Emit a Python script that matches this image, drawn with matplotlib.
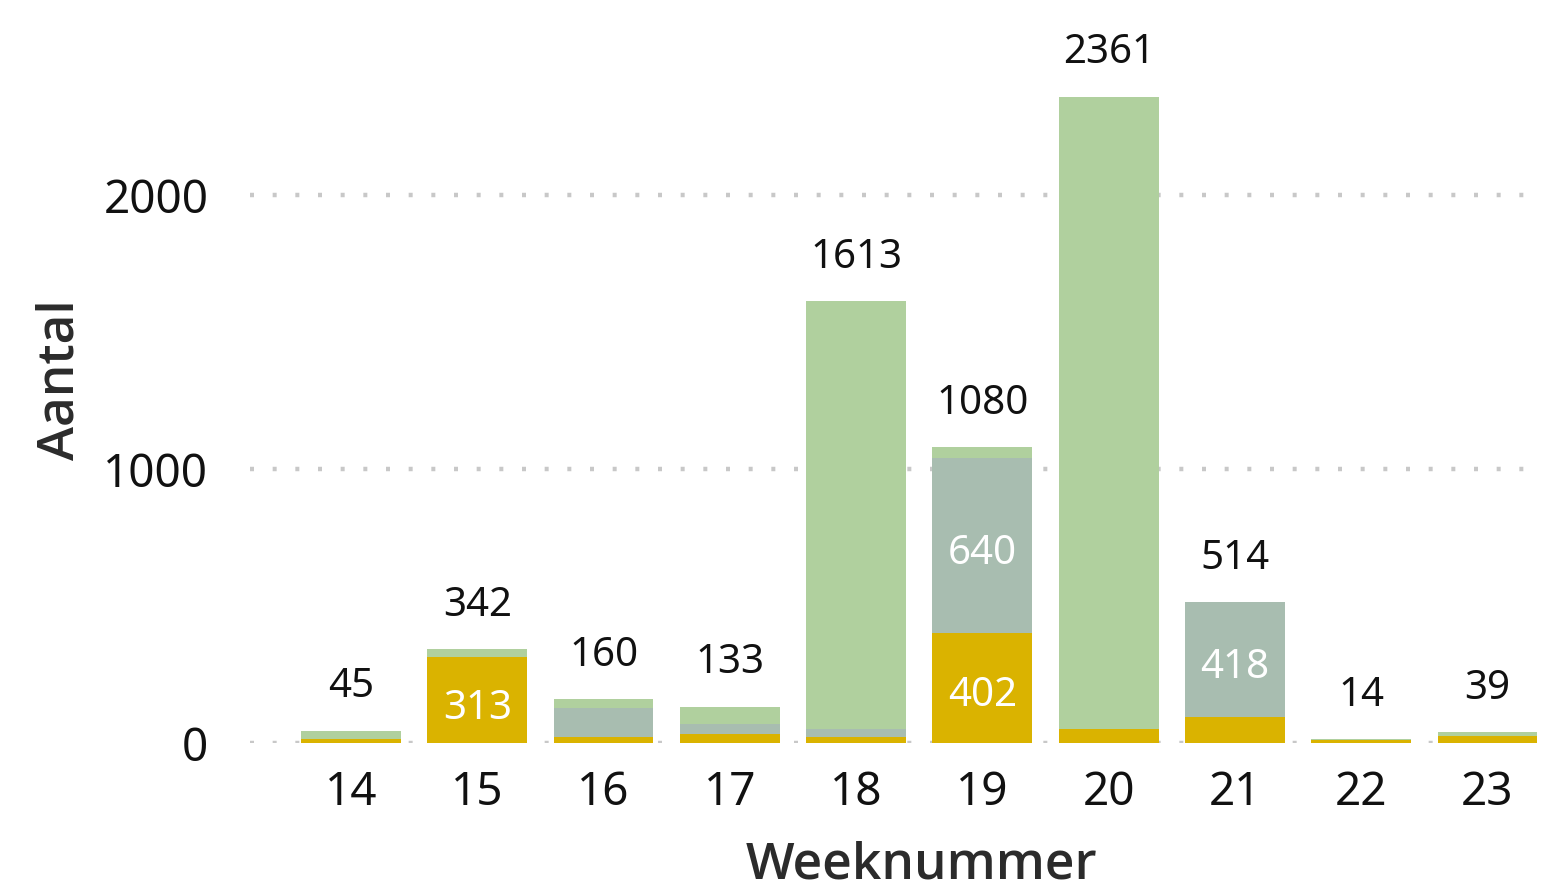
"""
Gestapelde staafgrafiek: aantal per weeknummer.
"""

import matplotlib.pyplot as plt
import numpy as np

weeks = [14, 15, 16, 17, 18, 19, 20, 21, 22, 23]
geel = [15, 313, 23, 33, 23, 402, 52, 96, 10, 26]
grijs = [0, 0, 105, 36, 29, 640, 0, 418, 0, 0]
groen = [30, 29, 32, 64, 1561, 38, 2309, 0, 4, 13]
totaal = [45, 342, 160, 133, 1613, 1080, 2361, 514, 14, 39]

KLEUREN = ["#dab300", "#a8bdb0", "#b0d09e"]

plt.rcParams["font.family"] = ["Noto Sans", "DejaVu Sans"]

fig = plt.figure(figsize=(15.48, 8.9), dpi=100)
ax = fig.add_axes([0.1615, 0.165, 0.832, 0.80])

x = np.array(weeks)
breedte = 0.79
onder = np.zeros(len(weeks))
for waarden, kleur in zip([geel, grijs, groen], KLEUREN):
    waarden = np.array(waarden)
    ax.bar(x, waarden, width=breedte, bottom=onder, color=kleur, zorder=3)
    if kleur != KLEUREN[2]:
        for xi, b, v in zip(x, onder, waarden):
            if v >= 300:
                ax.annotate(str(v), (xi, b + v / 2), xytext=(0, -6),
                            textcoords="offset points", ha="center", va="center",
                            color="white", fontsize=29, zorder=4)
    onder = onder + waarden

for xi, t in zip(x, totaal):
    ax.annotate(str(t), (xi, t), xytext=(0, 17), textcoords="offset points",
                ha="center", va="bottom", fontsize=29, color="#111111")

ax.set_xlim(13.2, 23.4)
ax.set_ylim(0, 2600)
ax.set_yticks([0, 1000, 2000])
ax.set_xticks(weeks)
ax.tick_params(axis="both", length=0, labelsize=33, colors="#111111")
ax.tick_params(axis="x", pad=19)
ax.tick_params(axis="y", pad=30)
ax.grid(axis="y", linestyle=(0, (0.9, 4.2)), linewidth=3.2, color="#c8c8c8", zorder=1)
for s in ax.spines.values():
    s.set_visible(False)

ax.set_xlabel("Weeknummer", fontsize=37, fontweight="semibold", color="#2b2b2b",
              family=["Open Sans", "DejaVu Sans"])
ax.set_ylabel("Aantal", fontsize=37, fontweight="semibold", color="#2b2b2b",
              family=["Open Sans", "DejaVu Sans"])
ax.xaxis.set_label_coords(0.521, -0.137)
ax.yaxis.set_label_coords(-0.128, 0.51)

fig.savefig("out.png", dpi=100)
